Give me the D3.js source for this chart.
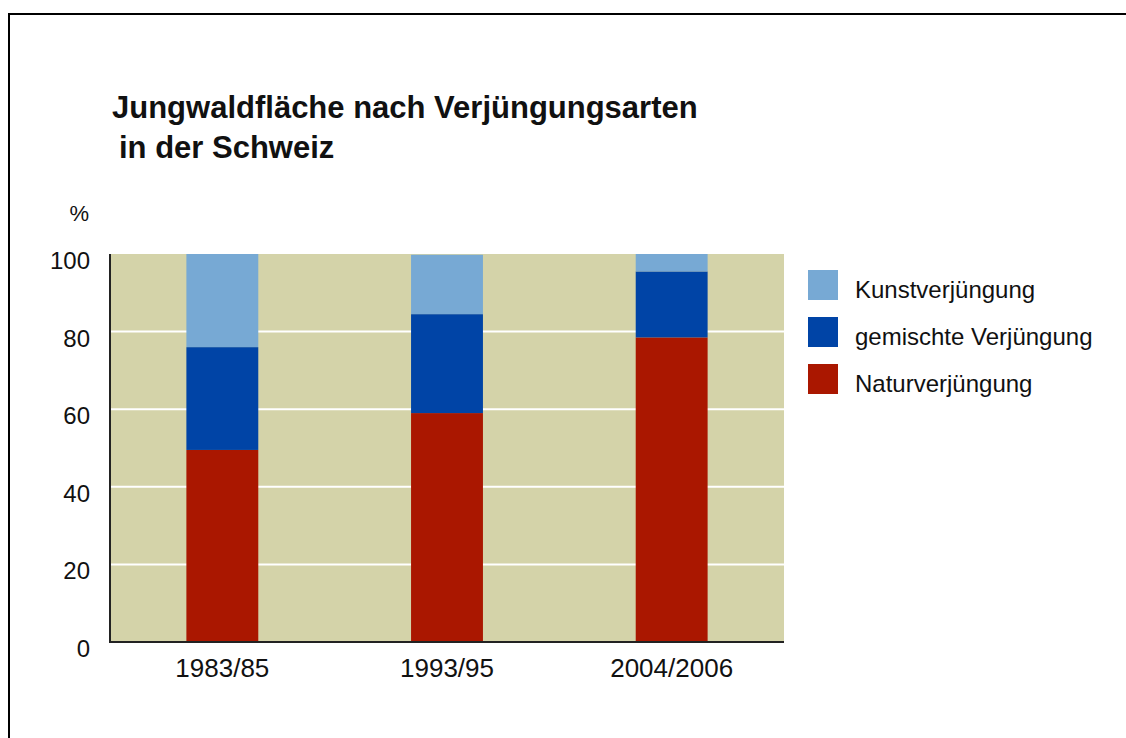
<!DOCTYPE html>
<html>
<head>
<meta charset="utf-8">
<script src="https://cdn.jsdelivr.net/npm/d3@7"></script>
<style>
  body { margin: 0; background: #fff; }
  text { font-family: "Liberation Sans", Arial, sans-serif; fill: #111; }
</style>
</head>
<body>
<div id="chart"></div>
<script>
// data
const periods = ["1983/85", "1993/95", "2004/2006"];
const natur = [49.5, 59, 78.5];
const gemischt = [26.5, 25.5, 17];
const kunst = [24, 15.3, 4.5];
const seriesNames = ["Kunstverjüngung", "gemischte Verjüngung", "Naturverjüngung"];
const seriesColors = ["#77a9d4", "#0044a6", "#aa1700"];
const yTicks = [0, 20, 40, 60, 80, 100];

const width = 1126, height = 738;
const plot = {left: 110, right: 784, top: 254, bottom: 642};

const svg = d3.select("#chart").append("svg")
    .attr("width", width)
    .attr("height", height);

// frame
svg.append("rect")
    .attr("x", 9).attr("y", 14)
    .attr("width", 1130).attr("height", 740)
    .attr("fill", "none")
    .attr("stroke", "#000")
    .attr("stroke-width", 2);

// title
const title = svg.append("text")
    .attr("x", 112).attr("y", 118)
    .style("font-size", "31px")
    .style("font-weight", "bold");
title.append("tspan").attr("x", 112).text("Jungwaldfläche nach Verjüngungsarten");
title.append("tspan").attr("x", 119).attr("dy", 40).text("in der Schweiz");

const x = d3.scaleBand().domain(periods).range([plot.left, plot.right]);
const y = d3.scaleLinear().domain([0, 100]).range([plot.bottom, plot.top]);

svg.append("rect")
    .attr("x", plot.left).attr("y", plot.top)
    .attr("width", plot.right - plot.left).attr("height", plot.bottom - plot.top)
    .attr("fill", "#d4d3a9");

// grid lines
svg.selectAll(".grid").data(yTicks.filter(d => d > 0 && d < 100)).enter()
    .append("line")
    .attr("x1", plot.left).attr("x2", plot.right)
    .attr("y1", d => y(d)).attr("y2", d => y(d))
    .attr("stroke", "#fff").attr("stroke-width", 2);

// stacked bars
const rows = periods.map((p, i) => ({period: p, natur: natur[i], gemischt: gemischt[i], kunst: kunst[i]}));
const stack = d3.stack().keys(["natur", "gemischt", "kunst"]);
const layers = stack(rows);
const layerColor = {natur: seriesColors[2], gemischt: seriesColors[1], kunst: seriesColors[0]};
const barW = x.bandwidth() * 0.32;

svg.selectAll(".layer").data(layers).enter()
    .append("g")
    .attr("fill", d => layerColor[d.key])
    .selectAll("rect").data(d => d).enter()
    .append("rect")
    .attr("x", d => x(d.data.period) + (x.bandwidth() - barW) / 2)
    .attr("width", barW)
    .attr("y", d => y(d[1]))
    .attr("height", d => y(d[0]) - y(d[1]));

// axes lines
svg.append("line")
    .attr("x1", plot.left).attr("x2", plot.left)
    .attr("y1", plot.top).attr("y2", plot.bottom)
    .attr("stroke", "#222").attr("stroke-width", 2);
svg.append("line")
    .attr("x1", plot.left - 1).attr("x2", plot.right)
    .attr("y1", plot.bottom).attr("y2", plot.bottom)
    .attr("stroke", "#222").attr("stroke-width", 2);

// y tick labels
svg.selectAll(".ylab").data(yTicks).enter()
    .append("text")
    .attr("x", 90)
    .attr("y", d => y(d) + 15)
    .attr("text-anchor", "end")
    .style("font-size", "24px")
    .text(d => d);

svg.append("text")
    .attr("x", 89).attr("y", 221)
    .attr("text-anchor", "end")
    .style("font-size", "22px")
    .text("%");

// x labels
svg.selectAll(".xlab").data(periods).enter()
    .append("text")
    .attr("x", d => x(d) + x.bandwidth() / 2)
    .attr("y", 677)
    .attr("text-anchor", "middle")
    .style("font-size", "26px")
    .text(d => d);

// legend
const legend = svg.selectAll(".leg").data(seriesNames).enter()
    .append("g")
    .attr("transform", (d, i) => `translate(808,${270 + i * 47})`);
legend.append("rect")
    .attr("width", 30).attr("height", 30)
    .attr("fill", (d, i) => seriesColors[i]);
legend.append("text")
    .attr("x", 47).attr("y", 28)
    .style("font-size", "24px")
    .text(d => d);
</script>
</body>
</html>
